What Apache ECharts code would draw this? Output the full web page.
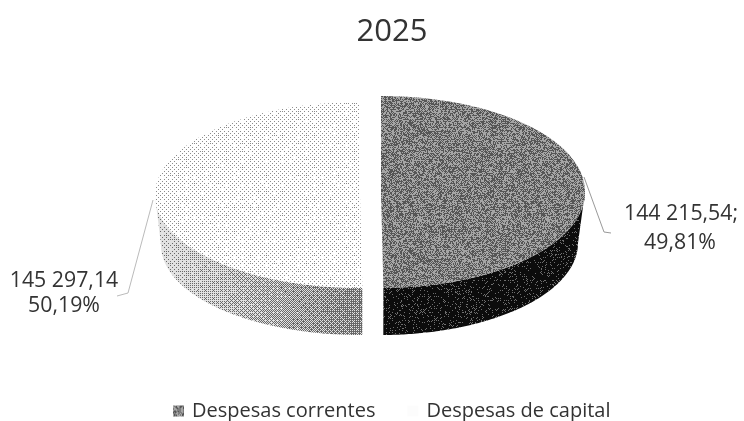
<!DOCTYPE html>
<html><head><meta charset="utf-8">
<style>html,body{margin:0;padding:0;background:#fff}#c{width:744px;height:421px}</style>
<script src="https://cdn.jsdelivr.net/npm/echarts@6/dist/echarts.min.js"></script></head>
<body><div id="c"></div>
<script>
const titleText = '2025';
const categories = ['Despesas correntes', 'Despesas de capital'];
const seriesValues = [144215.54, 145297.14];
const valueLabels = ['144 215,54;', '145 297,14'];
const percentLabels = ['49,81%', '50,19%'];

const FONT = '"Open Sans", sans-serif';
// Deterministic ordered-dither textures imitating the scanned halftone look
const bayer = [[0,32,8,40,2,34,10,42],[48,16,56,24,50,18,58,26],[12,44,4,36,14,46,6,38],[60,28,52,20,62,30,54,22],
 [3,35,11,43,1,33,9,41],[51,19,59,27,49,17,57,25],[15,47,7,39,13,45,5,37],[63,31,55,23,61,29,53,21]];
function jitter(x, y) { let h = (x * 374761393 + y * 668265263) | 0; h = Math.imul(h ^ (h >>> 13), 1274126177); return ((h ^ (h >>> 16)) >>> 0) % 1000 / 1000; }
function tile(w, h, levelAt, dark, light, amount) {
  const c = document.createElement('canvas'); c.width = w; c.height = h;
  const g = c.getContext('2d'); const im = g.createImageData(w, h);
  for (let y = 0; y < h; y++) for (let x = 0; x < w; x++) {
    const t = (bayer[y % 8][x % 8] + .5) / 64 * (1 - amount) + jitter(x, y) * amount;
    const v = t < levelAt(x) ? light : dark; const i = (y * w + x) * 4;
    im.data[i] = im.data[i + 1] = im.data[i + 2] = v; im.data[i + 3] = 255;
  }
  g.putImageData(im, 0, 0); return { image: c, repeat: 'repeat' };
}
const fills = {
  topR: tile(128, 128, () => .5, 85, 165, .6),
  sideR: tile(128, 128, () => .22, 12, 110, .7),
  topL: tile(128, 128, () => .86, 140, 255, .05),
  sideL: tile(744, 128, x => Math.max(.3, Math.min(.85, .85 - (x - 160) / 200 * .55)), 105, 225, .1)
};
const shapes = [
  { cx: 381, cy: 192, rx: 204, ry: 96, bx: 197, bcy: 243, bry: 92, top: fills.topR, side: fills.sideR },
  { cx: 360, cy: 195, rx: 205, ry: 93, bx: 199, bcy: 245, bry: 90, top: fills.topL, side: fills.sideL }
];
const leaders = [
  { pts: [[584, 177], [604, 232], [611, 233]], a: 'left', x: 624, y1: 214, y2: 243, px: 680, color: '#999' },
  { pts: [[153, 200], [128, 293], [117, 296]], a: 'center', x: 64, y1: 281, y2: 306, px: 64, color: '#bbb' }
];
const total = seriesValues.reduce((a, b) => a + b, 0);

function renderSlice(idx, api) {
  const v = api.value(0);
  let before = 0; for (let i = 0; i < idx; i++) before += seriesValues[i];
  const a0 = -Math.PI / 2 + before / total * 2 * Math.PI;
  const a1 = a0 + v / total * 2 * Math.PI;
  const s = shapes[idx]; const L = leaders[idx];
  const topArc = [], N = 120;
  for (let i = 0; i <= N; i++) { const a = a0 + (a1 - a0) * i / N; topArc.push([s.cx + s.rx * Math.cos(a), s.cy + s.ry * Math.sin(a)]); }
  const f0 = Math.max(a0, 0), f1 = Math.min(a1, Math.PI);
  const wall = [], back = [];
  for (let i = 0; i <= N; i++) {
    const a = f0 + (f1 - f0) * i / N;
    wall.push([s.cx + s.rx * Math.cos(a), s.cy + s.ry * Math.sin(a)]);
    back.unshift([s.cx + s.bx * Math.cos(a), s.bcy + s.bry * Math.sin(a)]);
  }
  return { type: 'group', children: [
    { type: 'polygon', shape: { points: wall.concat(back) }, style: { fill: s.side } },
    { type: 'polygon', shape: { points: topArc.concat([[s.cx, s.cy]]) }, style: { fill: s.top } },
    { type: 'polyline', shape: { points: L.pts }, style: { stroke: L.color, lineWidth: 1, fill: null } },
    { type: 'text', style: { text: valueLabels[idx], x: L.x, y: L.y1, fill: '#333', font: '21.3px ' + FONT, align: L.a === 'left' ? 'left' : 'center', verticalAlign: 'middle' } },
    { type: 'text', style: { text: percentLabels[idx], x: L.px, y: L.y2, fill: '#333', font: '21.3px ' + FONT, align: 'center', verticalAlign: 'middle' } }
  ]};
}
const chart = echarts.init(document.getElementById('c'), null, { renderer: 'canvas' });
chart.setOption({
  animation: false,
  backgroundColor: '#fff',
  title: { text: titleText, left: 387, top: 12, textAlign: 'center', textStyle: { fontFamily: FONT, fontSize: 31, fontWeight: 'normal', color: '#333' } },
  legend: {
    left: 168, top: 396, itemWidth: 11, itemHeight: 11, itemGap: 32, icon: 'rect', selectedMode: false,
    textStyle: { fontFamily: FONT, fontSize: 20, color: '#333', padding: [0, 0, 0, 3] },
    data: [{ name: categories[0], itemStyle: { color: fills.topR } }, { name: categories[1], itemStyle: { color: '#fcfcfc' } }]
  },
  series: categories.map((name, idx) => ({
    type: 'custom', name, coordinateSystem: 'none', silent: true,
    itemStyle: { color: idx ? '#fcfcfc' : '#808080' },
    data: [[seriesValues[idx]]],
    renderItem: (p, api) => renderSlice(idx, api)
  }))
});
</script></body></html>
